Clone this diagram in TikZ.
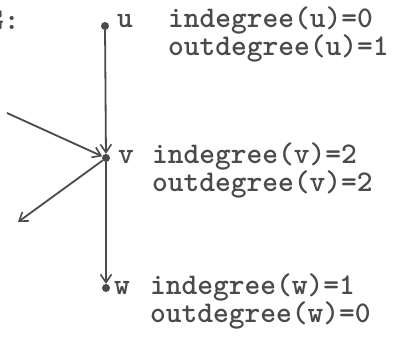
\documentclass[tikz,border=0pt]{standalone}
\usepackage{fontspec}
\usetikzlibrary{arrows.meta}
\definecolor{ink}{HTML}{4A4A4A}
\begin{document}
\begin{tikzpicture}[x=1pt,y=-1pt,
  vert/.style={circle,fill=ink,inner sep=0pt,minimum size=8pt},
  edge/.style={draw=ink,line width=1.8pt,-{Straight Barb[length=8pt,width=11pt,line width=1.6pt]}},
  lbl/.style={anchor=base west,inner sep=0pt,text=ink,font=\ttfamily\bfseries\fontsize{30}{30}\selectfont}]
\useasboundingbox (0,0) rectangle (395,337);
\fill[white] (0,0) rectangle (395,337);
\node[lbl] (g) at (-12,30) {G:};
\node[vert] (u) at (105,26) {};
\node[vert] (v) at (106,158) {};
\node[vert] (w) at (106,288) {};
\coordinate (a) at (7,113);
\coordinate (b) at (18,222);
\draw[edge] (u) -- (v);
\draw[edge] (a) -- (v);
\draw[edge] (v) -- (b);
\draw[edge] (v) -- (w);
\node[lbl] (lu) at (117,28) {u};
\node[lbl] (iu) at (168,28) {indegree(u)=0};
\node[lbl] (ou) at (168,56) {outdegree(u)=1};
\node[lbl] (lv) at (118,163) {v};
\node[lbl] (iv) at (152,163) {indegree(v)=2};
\node[lbl] (ov) at (152,191) {outdegree(v)=2};
\node[lbl] (lw) at (114,294) {w};
\node[lbl] (iw) at (150,294) {indegree(w)=1};
\node[lbl] (ow) at (150,322) {outdegree(w)=0};
\end{tikzpicture}
\end{document}
